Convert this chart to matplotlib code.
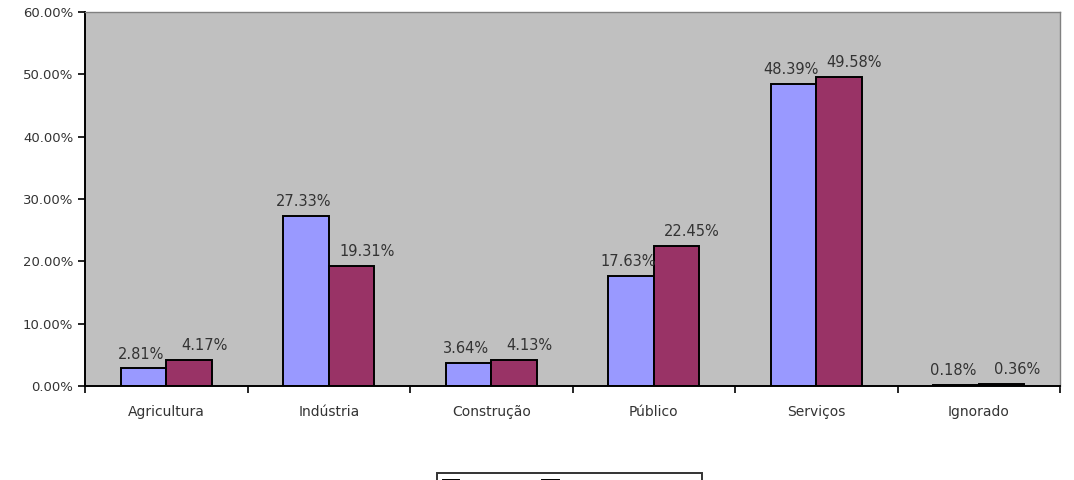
import numpy as np
import matplotlib.pyplot as plt
from matplotlib.ticker import FuncFormatter, FixedLocator

plt.rcParams["font.family"] = ["DejaVu Sans"]

categorias = ["Agricultura", "Indústria", "Construção", "Público", "Serviços", "Ignorado"]
serie_a = [2.81, 27.33, 3.64, 17.63, 48.39, 0.18]
serie_b = [4.17, 19.31, 4.13, 22.45, 49.58, 0.36]
# rótulos da legenda ficam cortados na imagem original
legenda = [" " * 10, " " * 29]

AZUL = "#9999FF"
VINHO = "#993366"
FUNDO = "#C0C0C0"
TEXTO = "#333333"

fig = plt.figure(figsize=(10.74, 4.8), dpi=100)
ax = fig.add_axes([85 / 1074, 94 / 480, 975 / 1074, 374 / 480])
ax.set_facecolor(FUNDO)

x = np.arange(len(categorias))
w = 0.28
b1 = ax.bar(x - w / 2, serie_a, w, color=AZUL, edgecolor="black", linewidth=1.4, label=legenda[0])
b2 = ax.bar(x + w / 2, serie_b, w, color=VINHO, edgecolor="black", linewidth=1.4, label=legenda[1])

for rect, v in zip(b1, serie_a):
    ax.annotate(f"{v:.2f}%", (rect.get_x() + rect.get_width() / 2, v),
                xytext=(-2, 5), textcoords="offset points", ha="center", va="bottom",
                fontsize=10.5, color=TEXTO)
for rect, v in zip(b2, serie_b):
    ax.annotate(f"{v:.2f}%", (rect.get_x() + rect.get_width() / 2, v),
                xytext=(11, 5), textcoords="offset points", ha="center", va="bottom",
                fontsize=10.5, color=TEXTO)

ax.set_xlim(-0.5, len(categorias) - 0.5)
ax.set_ylim(0, 60)
ax.yaxis.set_major_locator(FixedLocator(np.arange(0, 61, 10)))
ax.yaxis.set_major_formatter(FuncFormatter(lambda v, p: f"{v:.2f}%"))
ax.tick_params(axis="y", labelsize=9.5, labelcolor=TEXTO, direction="out", length=5, width=1.2)

ax.set_xticks(x)
ax.set_xticklabels(categorias)
ax.set_xticks(np.arange(-0.5, len(categorias), 1), minor=True)
ax.tick_params(axis="x", which="major", length=0, pad=14, labelsize=10, labelcolor=TEXTO)
ax.tick_params(axis="x", which="minor", direction="out", length=5, width=1.2)

for s in ("left", "bottom"):
    ax.spines[s].set_color("black")
    ax.spines[s].set_linewidth(1.4)
for s in ("top", "right"):
    ax.spines[s].set_color("#808080")
    ax.spines[s].set_linewidth(1.0)

leg = fig.legend(loc="upper left", bbox_to_anchor=(437 / 1074, 7 / 480), ncol=2,
                 frameon=True, fancybox=False, fontsize=10, handlelength=1.2,
                 columnspacing=2.0, borderpad=0.4, borderaxespad=0)
leg.get_frame().set_edgecolor("black")
leg.get_frame().set_linewidth(1.4)
for h in leg.legend_handles:
    h.set_edgecolor("black")

fig.savefig("out.png", dpi=100)
